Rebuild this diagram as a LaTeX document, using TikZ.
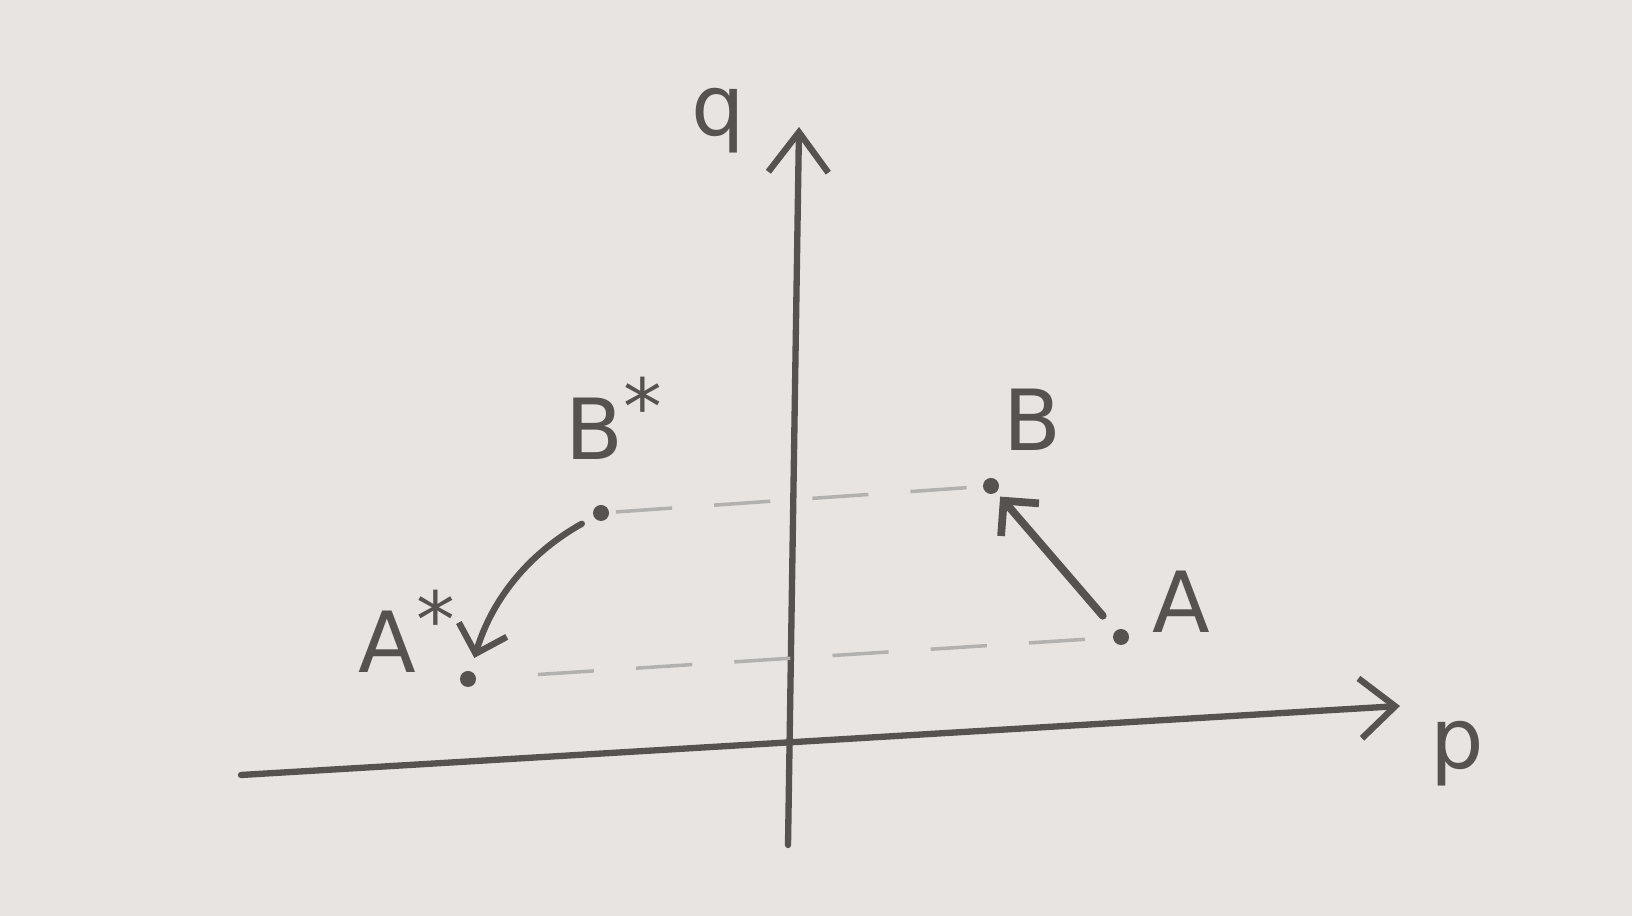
\documentclass[tikz,border=0pt]{standalone}
\usepackage{fontspec}
\setmainfont{DejaVu Sans}
\usetikzlibrary{arrows.meta}
\definecolor{paper}{RGB}{232,228,225}
\definecolor{pencil}{RGB}{85,82,80}
\newcommand{\bigstar}{\raisebox{.3em}{\fontsize{22}{22}\selectfont*}}
\begin{document}
\begin{tikzpicture}[pen/.style={draw=pencil,line width=1.8pt,line cap=round},
	lbl/.style={text=pencil,font=\fontsize{24}{28}\selectfont},
	guide/.style={draw=pencil!45,line width=1pt,dash pattern=on 16pt off 12pt}]
	\fill[paper] (0,0) rectangle (16.32,9.16);
	\useasboundingbox (0,0) rectangle (16.32,9.16);
	\path 
	(2.41,1.41) coordinate (P0)
	(14.00,2.10) coordinate (P1)
	(7.88,.71) coordinate (Q0)
	(7.99,7.89) coordinate (Q1)
	(9.91,4.30) coordinate (B)
	(11.21,2.79) coordinate (A)
	(6.01,4.03) coordinate (Bs)
	(4.68,2.37) coordinate (As);
	% axes
	\draw[pen,-{Straight Barb[length=3.5mm,width=6mm]}] (P0)--(P1);
	\draw[pen,-{Straight Barb[length=4mm,width=6mm]}] (Q0)--(Q1);
	\node[lbl] (p) at (14.57,1.62) {p};
	\node[lbl] (q) at (7.18,7.95) {q};
	% dashed guides
	\draw[guide,shorten <=.15cm,shorten >=.1cm] (Bs)--(B);
	\draw[guide,shorten <=.7cm,shorten >=.35cm] (As)--(A);
	% points
	\foreach \i in {A,B,As,Bs} \fill[pencil] (\i) circle (.08);
	\node[lbl] (lA) at (11.81,3.14) {A};
	\node[lbl] (lB) at (10.32,4.96) {B};
	\node[lbl] (lBs) at (6.14,4.98) {B\bigstar};
	\node[lbl] (lAs) at (4.07,2.85) {A\bigstar};
	% moves
	\draw[pen,line width=2.2pt,-{Straight Barb[length=2.5mm,width=5mm]},shorten <=.28cm,shorten >=.14cm] (A)--(B);
	\draw[pen,-{Straight Barb[length=2.5mm,width=5mm]},shorten <=.22cm,shorten >=.22cm] (Bs) to[bend right=22] (As);
\end{tikzpicture}
\end{document}
